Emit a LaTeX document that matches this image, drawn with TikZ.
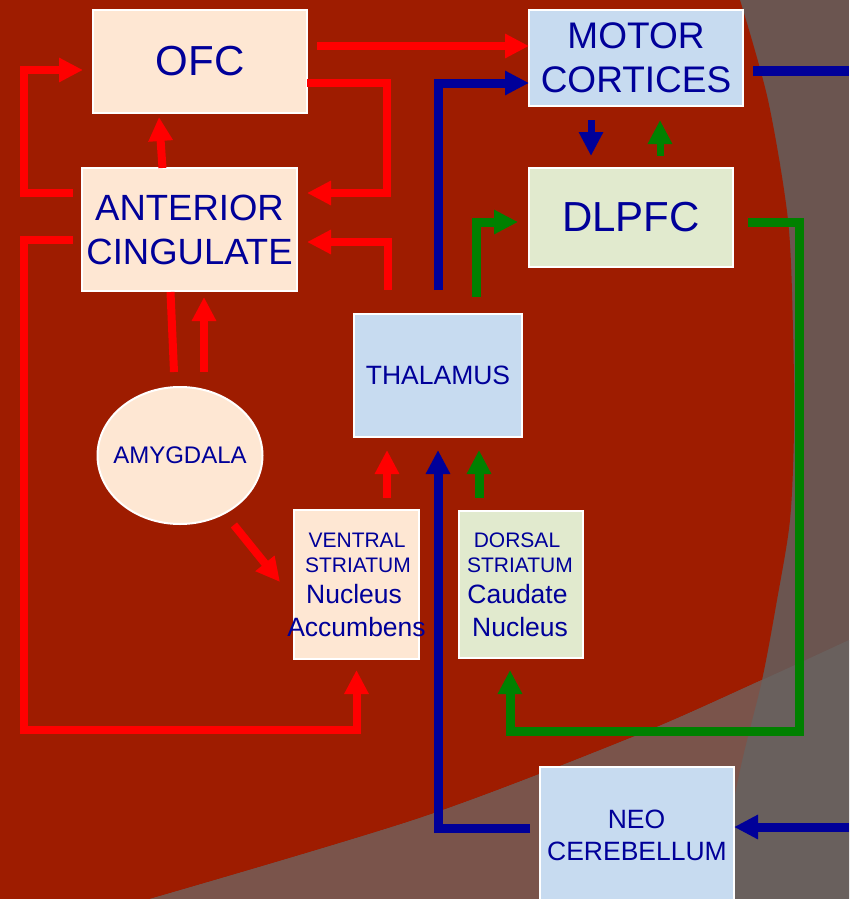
\documentclass[tikz,border=0pt]{standalone}
\usepackage{fontspec}
\setmainfont{Liberation Sans}
\usetikzlibrary{arrows.meta,calc,shapes.geometric}
\definecolor{bgred}{HTML}{9E1C00}
\definecolor{texA}{HTML}{6B5550}
\definecolor{texB}{HTML}{7A544B}
\definecolor{texC}{HTML}{69605D}
\definecolor{peach}{HTML}{FEE7D3}
\definecolor{lblue}{HTML}{C7DBF0}
\definecolor{lgreen}{HTML}{E1EACE}
\definecolor{txtblue}{HTML}{000099}
\definecolor{lnred}{HTML}{FF0000}
\definecolor{lnblue}{HTML}{000099}
\definecolor{lngreen}{HTML}{008000}
\tikzset{
  box/.style={rectangle, draw=white, line width=2pt, inner sep=0pt, outer sep=0pt,
    text=txtblue, align=center},
  txs/.style={text=txtblue, inner sep=0pt, anchor=base, font=\fontsize{21}{25}\selectfont},
  txl/.style={text=txtblue, inner sep=0pt, anchor=base, font=\fontsize{26.5}{31}\selectfont},
  tip/.style={-{Triangle[length=24pt,width=23pt]}},
  rln/.style={draw=lnred, line width=8pt, line join=miter},
  bln/.style={draw=lnblue, line width=9pt, line join=miter},
  gln/.style={draw=lngreen, line width=9pt, line join=miter},
  sln/.style={line width=7pt},
}
\begin{document}
\begin{tikzpicture}[x=1pt,y=-1pt]
\useasboundingbox (0,0) rectangle (849,899);
% background
\begin{scope}
\clip (0,0) rectangle (849,899);
\fill[texA] (0,0) rectangle (849,899);
\def\redregion{(0,0) -- (740,0) -- plot[smooth] coordinates {(740,0) (768,100) (788,220) (793,330) (794,430) (790,520) (777,600) (762,680) (740,770) (715,899)} -- (0,899) -- cycle}
\def\lowregion{plot[smooth] coordinates {(150,899) (420,818) (633,737) (762,680) (849,640)} -- (849,899) -- cycle}
\fill[bgred] \redregion;
\fill[texC] \lowregion;
\begin{scope}
\clip \redregion;
\fill[texB] \lowregion;
\end{scope}
\end{scope}

% nodes
\node[box, fill=peach, minimum width=214pt, minimum height=103pt,
  font=\fontsize{42}{50}\selectfont] (ofc) at (200,61.5) {OFC};
\node[box, fill=lblue, minimum width=214pt, minimum height=96pt,
  font=\fontsize{37}{44}\selectfont] (motor) at (636,58) {MOTOR\\CORTICES};
\node[box, fill=lgreen, minimum width=204pt, minimum height=99pt,
  font=\fontsize{42}{50}\selectfont] (dlpfc) at (631,217.5) {DLPFC};
\node[box, fill=peach, minimum width=215pt, minimum height=123pt,
  font=\fontsize{36.5}{44}\selectfont] (ac) at (189.5,229.5) {ANTERIOR\\CINGULATE};
\node[box, fill=lblue, minimum width=168pt, minimum height=123pt,
  font=\fontsize{26.5}{31}\selectfont] (thal) at (438,375.5) {THALAMUS};
\node[box, ellipse, fill=peach, minimum width=165pt, minimum height=137pt] (amyg) at (180,455.5) {};
\node[text=txtblue, inner sep=0pt, font=\fontsize{24}{29}\selectfont] (amygt) at (amyg.center) {AMYGDALA};
\node[box, fill=peach, minimum width=125pt, minimum height=149pt] (vs) at (356.5,584.5) {};
\node[box, fill=lgreen, minimum width=124pt, minimum height=147pt] (ds) at (521,584.5) {};
\node[box, fill=lblue, minimum width=194pt, minimum height=134pt] (neo) at (637,834) {};

\node[txs] (vs1) at (357,547) {VENTRAL};
\node[txs] (vs2) at (358,572) {STRIATUM};
\node[txl] (vs3) at (354,603) {Nucleus};
\node[txl] (vs4) at (356.5,636) {Accumbens};
\node[txs] (ds1) at (517,547) {DORSAL};
\node[txs] (ds2) at (520,572) {STRIATUM};
\node[txl] (ds3) at (517.5,603) {Caudate};
\node[txl] (ds4) at (520,636) {Nucleus};
\node[txl] (neo1) at (636.5,828) {NEO};
\node[txl] (neo2) at (637,860) {CEREBELLUM};

\coordinate (offr1) at (849,71);
\coordinate (offr2) at (849,827);

% red connectors
\draw[rln,tip] ($(ofc.east)+(10,-15.5)$) -- ($(motor.west)+(0,-12)$);
\draw[rln,tip] ($(ofc.east)+(0,21.5)$) -- ++(80,0) |- ($(ac.east)+(10,-36.5)$);
\draw[rln,tip] ($(thal.north)+(-50,-24)$) |- ($(ac.east)+(10,12.5)$);
\draw[rln,tip] ($(ac.west)+(-9,-36.5)$) -- ++(-49,0) |- ($(ofc.west)+(-10,8.5)$);
\draw[rln,tip] ($(ac.west)+(-9,10.5)$) -- ++(-49,0) -- ++(0,490) -| ($(vs.south)+(0,11)$);
\draw[rln,tip] ($(ac.north)+(-27,0)$) -- ($(ofc.south)+(-41,4)$);
\draw[rln] ($(ac.south)+(-19,1)$) -- ($(amyg.north)+(-6,-15)$);
\draw[rln,tip] ($(amyg.north)+(24,-15)$) -- ($(ac.south)+(14.5,6)$);
\draw[rln,tip] ($(amyg.-52)+(9,12)$) -- ($(vs.west)+(-14,-2.5)$);
\draw[rln,tip] ($(vs.north)+(30.5,-12)$) -- ($(thal.south)+(-51,13)$);

% green connectors
\draw[gln,tip] ($(ds.north)+(-42,-13)$) -- ($(thal.south)+(41,13)$);
\draw[gln,tip] ($(thal.north)+(38.5,-17)$) |- ($(dlpfc.west)+(-11,4.5)$);
\draw[gln,tip] ($(dlpfc.east)+(15,4.5)$) -- ++(51,0) -- ++(0,509) -| ($(ds.south)+(-11,12)$);
\draw[gln,sln,tip] ($(dlpfc.north)+(29,-12)$) -- ($(motor.south)+(24,14)$);

% blue connectors
\draw[bln,sln,tip] ($(motor.south)+(-45,14)$) -- ($(dlpfc.north)+(-40,-12)$);
\draw[bln,tip] ($(thal.north)+(0,-24)$) |- ($(motor.west)+(0,25)$);
\draw[bln] ($(motor.east)+(10,13)$) -- (offr1);
\draw[bln,tip] (offr2) -- ($(neo.east)+(0,-7)$);
\draw[bln,tip] ($(neo.west)+(-10,-6)$) -| ($(thal.south)+(0,13)$);
\end{tikzpicture}
\end{document}
